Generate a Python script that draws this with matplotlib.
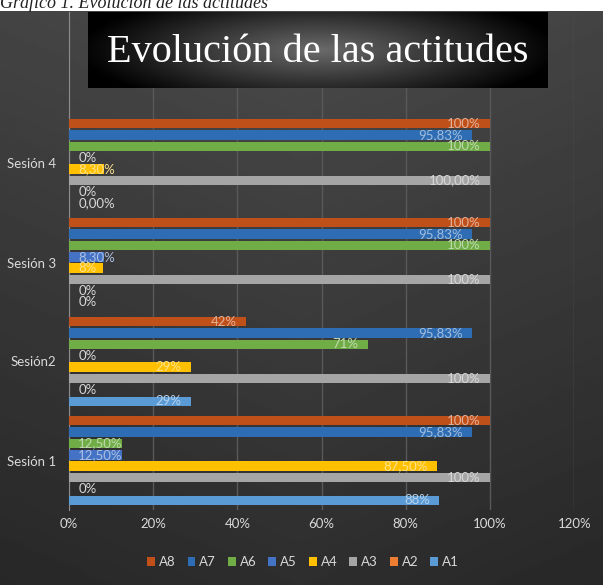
# =============================================================================
# BIBLIOTECAS
# =============================================================================

import numpy as np
from matplotlib import pyplot as plt
from matplotlib import colors as mcolors
from matplotlib.patches import Patch

# =============================================================================
# DADOS
# =============================================================================

sesiones = ["Sesión 1", "Sesión2", "Sesión 3", "Sesión 4"]
series = ["A1", "A2", "A3", "A4", "A5", "A6", "A7", "A8"]

a1 = [88, 29, 0, 0]
a2 = [0, 0, 0, 0]
a3 = [100, 100, 100, 100]
a4 = [87.5, 29, 8, 8.3]
a5 = [12.5, 0, 8.3, 0]
a6 = [12.5, 71, 100, 100]
a7 = [95.83, 95.83, 95.83, 95.83]
a8 = [100, 42, 100, 100]

etq_a1 = ["88%", "29%", "0%", "0,00%"]
etq_a2 = ["0%", "0%", "0%", "0%"]
etq_a3 = ["100%", "100%", "100%", "100,00%"]
etq_a4 = ["87,50%", "29%", "8%", "8,30%"]
etq_a5 = ["12,50%", "0%", "8,30%", "0%"]
etq_a6 = ["12,50%", "71%", "100%", "100%"]
etq_a7 = ["95,83%", "95,83%", "95,83%", "95,83%"]
etq_a8 = ["100%", "42%", "100%", "100%"]

ticks_x = [0, 20, 40, 60, 80, 100, 120]

valores = [a1, a2, a3, a4, a5, a6, a7, a8]
etiquetas = [etq_a1, etq_a2, etq_a3, etq_a4, etq_a5, etq_a6, etq_a7, etq_a8]
cores = ["#5B9BD5", "#ED7D31", "#A5A5A5", "#FFC000",
         "#4472C4", "#70AD47", "#2E6DB4", "#C0501A"]

# =============================================================================
# FIGURA
# =============================================================================

W, H = 606, 587
fig = plt.figure(figsize=(W / 100, H / 100), dpi=100, facecolor="white")
plt.rcParams["font.family"] = ["Lato", "DejaVu Sans"]

# fundo escuro com degradê
fundo = fig.add_axes([0, 2 / H, 603 / W, 574 / H])
gy, gx = np.mgrid[0:1:200j, 0:1:200j]
grad = 0.29 - 0.11 * gy - 0.05 * np.abs(gx - 0.5)
fundo.imshow(grad, cmap="gray", vmin=0, vmax=1, aspect="auto",
             extent=[0, 1, 0, 1], origin="upper")
fundo.axis("off")

# legenda da figura no topo (cortada, como no original)
fig.text(0.0, 1 - 8 / H, "Gráfico 1. Evolución de las actitudes",
         family="Liberation Serif", style="italic", fontsize=13,
         color="#222222", va="baseline", ha="left")

# eixo principal
x0, x100 = 69, 490
passo_cat = 99
topo_plot = 12
base_plot = 510
larg = (x100 - x0) * 1.2
ax = fig.add_axes([x0 / W, 1 - base_plot / H, larg / W, (base_plot - topo_plot) / H])
ax.set_facecolor("none")
y_max = -0.5 + (base_plot - topo_plot) / passo_cat
ax.set_ylim(-0.5, y_max)
ax.set_xlim(0, 1.2)

y = np.arange(len(sesiones))
passo = 0.115
altura = 0.097

for k, (vals, etqs, cor) in enumerate(zip(valores, etiquetas, cores)):
    v = np.array(vals) / 100
    pos = y + (k - 3.5) * passo
    ax.barh(pos, v, height=altura, color=cor, zorder=3)
    tinta = np.array(mcolors.to_rgb(cor)) * 0.45 + 0.55
    for yi, vi, t in zip(pos, v, etqs):
        cor_t = "#d9d9d9" if vi == 0 else tinta
        if vi < 0.15:
            ax.text(0.022, yi, t, ha="left", va="center", fontsize=9.5,
                    color=cor_t, zorder=4)
        else:
            ax.text(vi - 0.022, yi, t, ha="right", va="center", fontsize=9.5,
                    color=cor_t, zorder=4)

ax.set_xticks(np.array(ticks_x) / 100)
ax.set_xticklabels([f"{t}%" for t in ticks_x])
ax.set_yticks(y)
ax.set_yticklabels(sesiones)
ax.tick_params(length=0, colors="#d9d9d9", labelsize=9.5)
ax.tick_params(axis="x", pad=6)
ax.tick_params(axis="y", pad=9)
ax.grid(axis="x", color="#595959", linewidth=1, zorder=0)
for s in ["top", "right", "bottom"]:
    ax.spines[s].set_visible(False)
ax.spines["left"].set_color("#8c8c8c")

# legenda das séries (A8 ... A1)
handles = [Patch(facecolor=c, label=s) for s, c in zip(series, cores)][::-1]
fig.legend(handles=handles, loc="center", bbox_to_anchor=(0.5, 1 - 562 / H),
           ncol=8, frameon=False, fontsize=9.5, labelcolor="#d9d9d9",
           handlelength=0.6, handleheight=0.6, handletextpad=0.3,
           columnspacing=0.9)

# caixa do título com degradê radial
caixa = fig.add_axes([88 / W, 1 - 88 / H, 460 / W, 76 / H])
cy, cx = np.mgrid[-1:1:100j, -1:1:300j]
r = np.sqrt((cx / 1.05) ** 2 + (cy / 1.6) ** 2)
caixa.imshow(np.clip(0.42 * (1 - r), 0, 1), cmap="gray", vmin=0, vmax=1,
             aspect="auto", extent=[0, 1, 0, 1])
caixa.set_xticks([])
caixa.set_yticks([])
for s in caixa.spines.values():
    s.set_visible(False)
caixa.text(0.5, 0.47, "Evolución de las actitudes", family="Liberation Serif",
           fontsize=29, color="white", ha="center", va="center",
           transform=caixa.transAxes)

plt.savefig("out.png", dpi=100)
